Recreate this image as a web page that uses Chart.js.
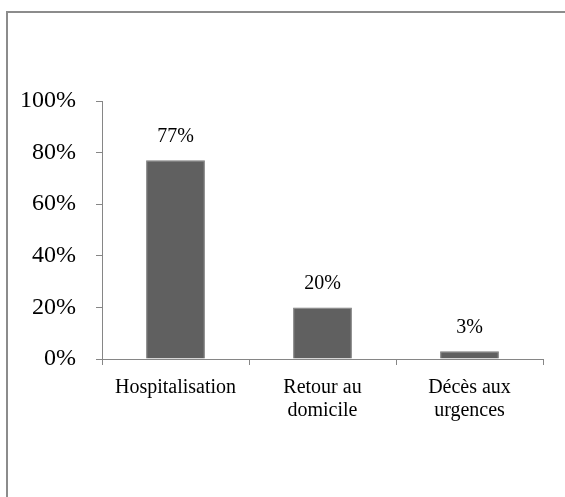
<!DOCTYPE html>
<html>
<head>
<meta charset="utf-8">
<script src="https://cdn.jsdelivr.net/npm/chart.js@4"></script>
<style>
  html, body { margin: 0; padding: 0; background: #fff; overflow: hidden; }
  #frame {
    position: absolute; left: 6px; top: 11px;
    width: 600px; height: 520px;
    border: 2px solid #8c8c8c; box-sizing: border-box;
  }
  #wrap { position: absolute; left: 0; top: 0; width: 565px; height: 497px; }
</style>
</head>
<body>
<div id="frame"></div>
<div id="wrap"><canvas id="barChart"></canvas></div>
<script>
// categories and values (percent)
const categories = ['Hospitalisation', ['Retour au', 'domicile'], ['Décès aux', 'urgences']];
const values = [77, 20, 3];
const yTicks = [0, 20, 40, 60, 80, 100];

const serif = '"Liberation Serif", "Times New Roman", serif';

// draws the percent label above each bar
const barLabels = {
    id: 'barLabels',
    afterDatasetsDraw(chart) {
        const ctx = chart.ctx;
        const meta = chart.getDatasetMeta(0);
        ctx.save();
        ctx.font = '20px ' + serif;
        ctx.fillStyle = '#000';
        ctx.textAlign = 'center';
        ctx.textBaseline = 'middle';
        meta.data.forEach((bar, i) => {
            ctx.fillText(values[i] + '%', bar.x, bar.y - 24);
        });
        ctx.restore();
    }
};

const ctx = document.getElementById('barChart').getContext('2d');
const chart = new Chart(ctx, {
    type: 'bar',
    data: {
        labels: categories,
        datasets: [{
            data: values,
            backgroundColor: '#606060',
            borderColor: '#7a7a7a',
            borderWidth: 1,
            categoryPercentage: 1,
            barPercentage: 0.4
        }]
    },
    options: {
        responsive: true,
        maintainAspectRatio: false,
        animation: false,
        layout: { padding: { left: 0, right: 22, top: 101, bottom: 0 } },
        plugins: {
            legend: { display: false },
            tooltip: { enabled: false }
        },
        scales: {
            x: {
                grid: {
                    display: true,
                    offset: true,
                    drawOnChartArea: false,
                    drawTicks: true,
                    tickLength: 6,
                    tickColor: '#868686'
                },
                border: { color: '#868686', width: 1 },
                ticks: {
                    color: '#000',
                    font: { family: serif, size: 20, lineHeight: 1.15 },
                    padding: 11,
                    maxRotation: 0,
                    autoSkip: false
                },
                afterFit(scale) { scale.height = 138; }
            },
            y: {
                min: 0,
                max: 100,
                afterBuildTicks(scale) {
                    scale.ticks = yTicks.map(v => ({ value: v }));
                },
                grid: {
                    drawOnChartArea: false,
                    drawTicks: true,
                    tickLength: 6,
                    tickColor: '#868686'
                },
                border: { color: '#868686', width: 1 },
                ticks: {
                    color: '#000',
                    font: { family: serif, size: 24 },
                    padding: 20,
                    callback: v => v + '%'
                },
                afterFit(scale) { scale.width = 102; }
            }
        }
    },
    plugins: [barLabels]
});
</script>
</body>
</html>
